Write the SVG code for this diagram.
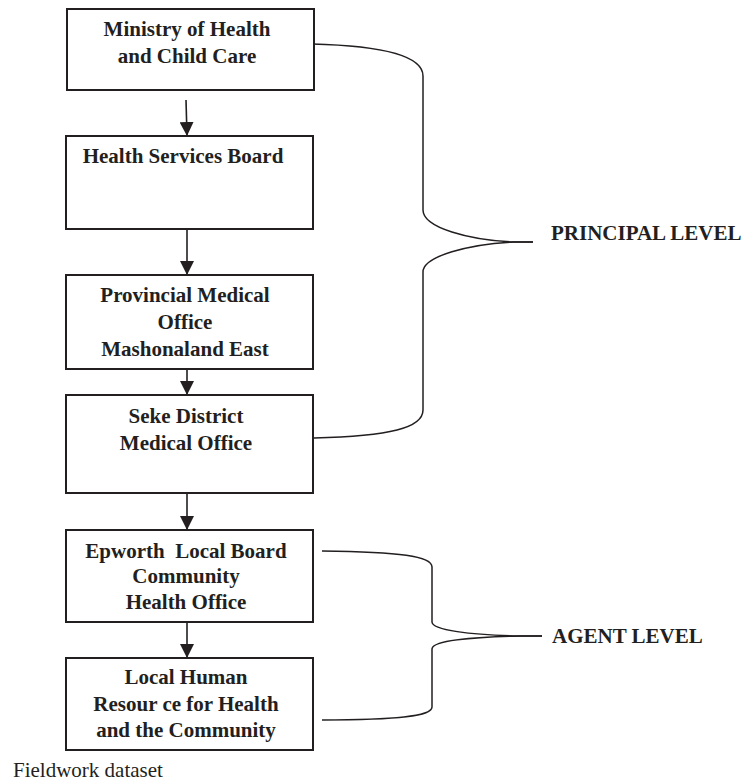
<svg xmlns="http://www.w3.org/2000/svg" width="747" height="782" viewBox="0 0 747 782">
<defs>
<style>
.box{fill:#fff;stroke:#231f20;stroke-width:2}
.t{font-family:"Liberation Serif","Times New Roman",serif;font-weight:bold;font-size:21px;fill:#231f20;text-anchor:middle}
.lbl{font-family:"Liberation Serif","Times New Roman",serif;font-weight:bold;font-size:21px;fill:#231f20}
.src{font-family:"Liberation Serif","Times New Roman",serif;font-size:21px;fill:#231f20}
.arr{stroke:#231f20;stroke-width:1.6;fill:none}
.brace{stroke:#231f20;stroke-width:1.5;fill:none}
</style>
<marker id="ah" markerWidth="14" markerHeight="14" refX="14" refY="7" orient="auto" markerUnits="userSpaceOnUse">
<path d="M0,0 L14,7 L0,14 z" fill="#231f20"/>
</marker>
</defs>
<g id="connectors">
<line class="arr" x1="186" y1="100" x2="187" y2="136" marker-end="url(#ah)"/>
<line class="arr" x1="187" y1="229" x2="187" y2="275" marker-end="url(#ah)"/>
<line class="arr" x1="187" y1="369" x2="187" y2="395" marker-end="url(#ah)"/>
<line class="arr" x1="187" y1="493" x2="187" y2="530" marker-end="url(#ah)"/>
<line class="arr" x1="187" y1="622" x2="187" y2="658" marker-end="url(#ah)"/>
</g>
<g id="principal-brace">
<path class="brace" d="M312,44 C390,46 423,58 423,76 L423,210 C423,228 470,240 513,242 L533,242"/>
<path class="brace" d="M533,242 L513,242 C470,244 423,256 423,272 L423,410 C423,428 390,436 314,438"/>
</g>
<g id="agent-brace">
<path class="brace" d="M322,551 C400,552 432,556 432,567 L432,622 C432,630 470,635 520,636 L542,636"/>
<path class="brace" d="M542,636 L520,636 C470,637 432,641 432,649 L432,707 C432,716 400,720 322,720"/>
</g>
<g id="n1">
<rect class="box" x="67" y="9" width="247" height="81"/>
<text class="t" x="187" y="36">Ministry of Health</text>
<text class="t" x="187" y="63">and Child Care</text>
</g>
<g id="n2">
<rect class="box" x="66" y="136" width="247" height="93"/>
<text class="t" x="183" y="163">Health Services Board</text>
</g>
<g id="n3">
<rect class="box" x="66" y="275" width="247" height="94"/>
<text class="t" x="185" y="302">Provincial Medical</text>
<text class="t" x="185" y="329">Office</text>
<text class="t" x="185" y="356">Mashonaland East</text>
</g>
<g id="n4">
<rect class="box" x="66" y="395" width="247" height="98"/>
<text class="t" x="186" y="423">Seke District</text>
<text class="t" x="186" y="450">Medical Office</text>
</g>
<g id="n5">
<rect class="box" x="66" y="530" width="247" height="92"/>
<text class="t" x="186" y="558" xml:space="preserve">Epworth  Local Board</text>
<text class="t" x="186" y="583">Community</text>
<text class="t" x="186" y="609">Health Office</text>
</g>
<g id="n6">
<rect class="box" x="66" y="658" width="247" height="92"/>
<text class="t" x="186" y="684">Local Human</text>
<text class="t" x="186" y="711">Resour ce for Health</text>
<text class="t" x="186" y="737">and the Community</text>
</g>
<g id="principal-level">
<text class="lbl" x="551" y="240">PRINCIPAL LEVEL</text>
</g>
<g id="agent-level">
<text class="lbl" x="552" y="643">AGENT LEVEL</text>
</g>
<text class="src" x="13" y="777">Fieldwork dataset</text>
</svg>
